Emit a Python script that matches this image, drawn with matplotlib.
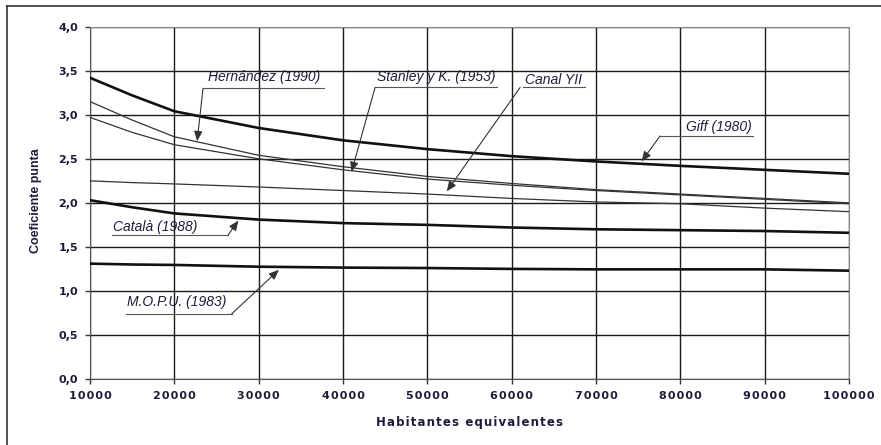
import matplotlib
matplotlib.use("Agg")
import matplotlib.pyplot as plt
from matplotlib.lines import Line2D

# values
habitantes = [10000, 15000, 20000, 30000, 40000, 50000, 60000, 70000, 80000, 90000, 100000]
giff = [3.42, 3.22, 3.04, 2.85, 2.71, 2.61, 2.53, 2.47, 2.42, 2.375, 2.33]
hernandez = [3.15, 2.94, 2.75, 2.54, 2.41, 2.30, 2.22, 2.15, 2.10, 2.05, 2.00]
stanley = [2.97, 2.80, 2.66, 2.50, 2.375, 2.27, 2.20, 2.14, 2.09, 2.04, 1.99]
canal = [2.25, 2.23, 2.215, 2.18, 2.14, 2.10, 2.05, 2.01, 1.99, 1.94, 1.90]
catala = [2.03, 1.95, 1.88, 1.81, 1.77, 1.75, 1.72, 1.70, 1.69, 1.68, 1.66]
mopu = [1.31, 1.30, 1.295, 1.275, 1.265, 1.26, 1.25, 1.245, 1.245, 1.245, 1.23]

x_ticks = list(range(10000, 100001, 10000))
y_ticks = [0.0, 0.5, 1.0, 1.5, 2.0, 2.5, 3.0, 3.5, 4.0]
y_ticklabels = [f"{v:.1f}".replace(".", ",") for v in y_ticks]

TEXT = "#1c1c3a"
HAIR = "\u200a"  # stands in for the letter spacing of the original


def spaced(s):
    return HAIR.join(s)


fig = plt.figure(figsize=(8.81, 4.45), dpi=100)
ax = fig.add_axes([0.1022, 0.1483, 0.8615, 0.7917])

ax.plot(habitantes, giff, color="#111111", lw=1.9, zorder=3)
ax.plot(habitantes, hernandez, color="#333333", lw=0.9, zorder=3)
ax.plot(habitantes, stanley, color="#333333", lw=0.9, zorder=3)
ax.plot(habitantes, canal, color="#333333", lw=0.9, zorder=3)
ax.plot(habitantes, catala, color="#111111", lw=1.9, zorder=3)
ax.plot(habitantes, mopu, color="#111111", lw=1.9, zorder=3)

ax.set_xlim(10000, 100000)
ax.set_ylim(0, 4)
ax.set_xticks(x_ticks)
ax.set_xticklabels([spaced(str(v)) for v in x_ticks])
ax.set_yticks(y_ticks)
ax.set_yticklabels(y_ticklabels)
ax.grid(True, color="#1a1a1a", lw=1.0, zorder=1)
ax.set_axisbelow(True)
for side in ["top", "right"]:
    ax.spines[side].set_color("#888888")
for side in ["left", "bottom"]:
    ax.spines[side].set_color("#555555")
ax.tick_params(axis="both", length=3.5, width=1, color="#333333", pad=5,
               labelcolor=TEXT)
for lab in ax.get_xticklabels() + ax.get_yticklabels():
    lab.set_fontfamily("DejaVu Sans")
    lab.set_fontweight("bold")
    lab.set_fontsize(8)

ax.set_xlabel(spaced("Habitantes equivalentes"), fontfamily="DejaVu Sans",
              fontweight="bold", fontsize=8.5, color=TEXT)
ax.xaxis.set_label_coords(0.5, -0.104)
ax.set_ylabel("Coeficiente punta", fontfamily="Liberation Sans",
              fontweight="bold", fontsize=9, color=TEXT)
ax.yaxis.set_label_coords(-0.063, 0.505)

# labels with underline and leader arrow: (text, text x, text y, underline x0, x1, y, leader start, arrow tip)
labels = [
    ("Hernández (1990)", 24000, 3.43, 23400, 37700, 3.30, (23400, 3.30), (22700, 2.70)),
    ("Stanley y K. (1953)", 44000, 3.43, 43800, 58300, 3.31, (43800, 3.31), (41000, 2.35)),
    ("Canal YII", 61600, 3.40, 61300, 68700, 3.31, (61000, 3.31), (52300, 2.13)),
    ("Giff (1980)", 80700, 2.86, 77600, 88600, 2.76, (77600, 2.76), (75400, 2.47)),
    ("Català (1988)", 12700, 1.73, 12600, 26400, 1.64, (26400, 1.64), (27600, 1.80)),
    ("M.O.P.U. (1983)", 14400, 0.875, 14300, 26800, 0.74, (26800, 0.74), (32400, 1.24)),
]
for txt, tx, ty, u0, u1, uy, start, tip in labels:
    ax.text(tx, ty, txt, fontfamily="Liberation Sans", fontstyle="italic",
            fontsize=10, color=TEXT, va="center", ha="left", zorder=5)
    ax.plot([u0, u1], [uy, uy], color="#555555", lw=0.8, zorder=4)
    ax.annotate("", xy=tip, xytext=start,
                arrowprops=dict(arrowstyle="-|>,head_length=0.6,head_width=0.25",
                                color="#333333", lw=0.8, shrinkA=0, shrinkB=0,
                                mutation_scale=10),
                zorder=5)

# outer frame (cut off at right and bottom like the reference)
x0 = 7 / 881
y_top = 1 - 6 / 445
fig.add_artist(Line2D([x0, x0], [0, y_top], transform=fig.transFigure,
                      color="#333333", lw=1.2))
fig.add_artist(Line2D([x0, 1], [y_top, y_top], transform=fig.transFigure,
                      color="#333333", lw=1.2))

fig.savefig("out.png", dpi=100)
